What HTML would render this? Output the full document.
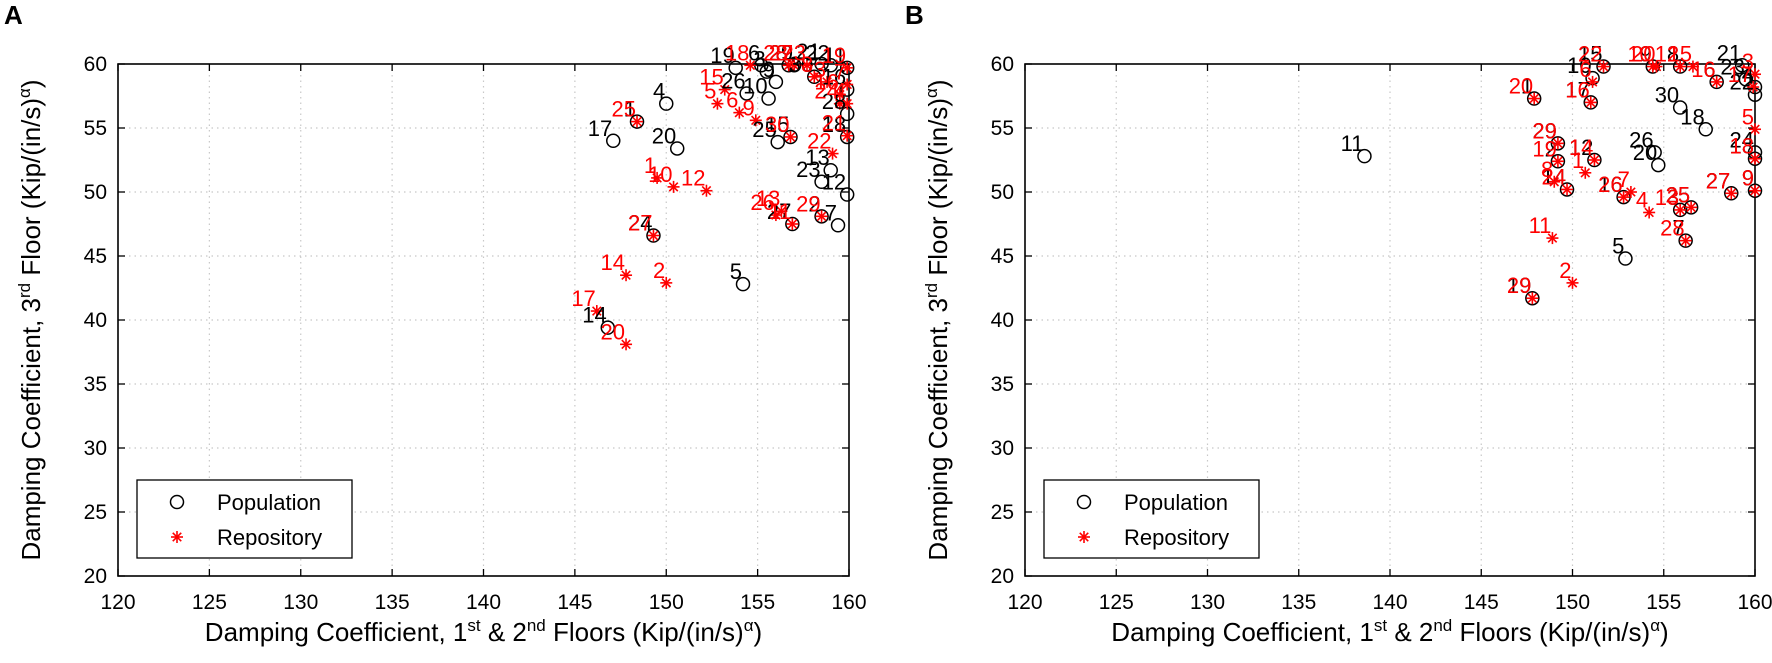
<!DOCTYPE html>
<html><head><meta charset="utf-8"><style>
html,body{margin:0;padding:0;background:#fff;}
svg{display:block;font-family:"Liberation Sans",Arial,sans-serif;}
</style></head><body>
<svg id="chart" width="1772" height="663" viewBox="0 0 1772 663" xmlns="http://www.w3.org/2000/svg">
<rect width="1772" height="663" fill="#fff"/>
</svg>
<script>
// ---- Panel A data ----
const popAx = [153.8,155.2,155.5,156.0,155.6,154.4,150.0,147.1,150.6,156.1,159.0,158.5,159.9,159.4,156.9,158.5,154.2,146.8,149.3,148.4,159.0,159.9,159.9,159.9,159.9,156.7,157.0,158.1,156.8,158.5];
const popAy = [59.7,59.9,59.4,58.6,57.3,57.7,56.9,54.0,53.4,53.9,51.7,50.8,49.8,47.4,47.5,48.1,42.8,39.4,46.6,55.5,59.9,59.7,58.0,56.1,54.3,59.9,59.9,59.0,54.3,60.0];
const popAlab = ['19','6','3','9','10','26','4','17','20','25','13','23','12','7','27','2','5','14','24','1','22','11','16','28','18','8','29','30','15','21'];
const repAx = [154.6,153.2,152.8,154.0,154.9,156.8,156.7,157.0,157.7,158.1,158.8,159.5,159.9,159.9,159.5,159.9,159.9,159.1,149.5,150.4,152.2,156.3,156.0,158.5,156.9,148.4,149.3,147.8,150.0,146.2,147.8];
const repAy = [59.9,58.0,56.9,56.2,55.6,54.3,59.9,59.9,59.9,59.0,58.6,57.6,59.7,58.4,56.9,56.9,54.4,53.0,51.1,50.4,50.1,48.5,48.2,48.1,47.5,55.5,46.6,43.5,42.9,40.7,38.1];
const repAlab = ['18','15','5','6','9','30','28','27','23','8','3','16','19','7','24','4','21','22','1','10','12','13','26','29','11','25','27','14','2','17','20'];
// ---- Panel B data ----
const popBx = [138.6,147.9,151.7,151.1,151.0,154.4,155.9,157.9,159.3,159.5,160,155.9,157.3,160,160,160,158.7,155.9,156.5,156.2,154.5,154.7,149.2,149.2,151.2,149.7,152.8,152.9,147.8,160];
const popBy = [52.8,57.3,59.8,58.9,57.0,59.8,59.8,58.6,59.9,58.8,57.6,56.6,54.9,53.1,52.6,50.1,49.9,48.6,48.8,46.2,53.1,52.1,53.8,52.4,52.5,50.2,49.6,44.8,41.7,58.2];
const popBlab = ['11','1','15','10','17','9','8','6','21','23','22','30','18','24','13','9','27','3','25','7','26','20','29','2','12','14','16','5','19','4'];
const repBx = [147.9,151.7,151.1,151.0,154.4,155.9,156.6,157.9,159.9,160,160,160,158.7,155.9,156.5,156.2,149.2,149.2,151.2,150.7,149.0,149.7,152.8,153.2,154.2,148.9,150.0,147.8,154.6,160];
const repBy = [57.3,59.8,58.6,57.0,59.8,59.8,59.8,58.6,58.2,54.9,52.6,50.1,49.9,48.6,48.8,46.2,53.8,52.4,52.5,51.5,50.8,50.2,49.6,50.0,48.4,46.4,42.9,41.7,59.8,59.2];
const repBlab = ['20','22','6','16','10','12','15','16','17','5','18','9','27','13','25','28','29','19','14','1','8','24','26','7','4','11','2','29','20','3'];
const xTicks = [120,125,130,135,140,145,150,155,160];
const yTicks = [20,25,30,35,40,45,50,55,60];

const NS = 'http://www.w3.org/2000/svg';
const svg = document.getElementById('chart');
function mk(tag, attrs, parent){ const e=document.createElementNS(NS,tag); for(const k in attrs) e.setAttribute(k,attrs[k]); (parent||svg).appendChild(e); return e; }

function panel(cfg){
  const L=cfg.left, R=cfg.right, T=64, B=576;
  const sx = v => L + (v-120)/(160-120)*(R-L);
  const sy = v => B - (v-20)/(60-20)*(B-T);
  const g = mk('g',{});
  
  
  xTicks.forEach(t=>{ if(t>120&&t<160){ const l=mk('line',{x1:sx(t),x2:sx(t),y1:T,y2:B,stroke:'#c8c8c8','stroke-width':1.2,'stroke-dasharray':'1.5 4'},g);
      }});
  yTicks.forEach(t=>{ if(t>20&&t<60){ const l=mk('line',{x1:L,x2:R,y1:sy(t),y2:sy(t),stroke:'#c8c8c8','stroke-width':1.2,'stroke-dasharray':'1.5 4'},g);
      }});
  xTicks.forEach(t=>{
    mk('line',{x1:sx(t),x2:sx(t),y1:B,y2:B-7,stroke:'#000','stroke-width':1.3},g);
    mk('line',{x1:sx(t),x2:sx(t),y1:T,y2:T+7,stroke:'#000','stroke-width':1.3},g);
    const tx=mk('text',{x:sx(t),y:B+33,'font-size':21,'text-anchor':'middle',fill:'#000'},g);
    tx.textContent=t;
     
  });
  yTicks.forEach(t=>{
    mk('line',{x1:L,x2:L+7,y1:sy(t),y2:sy(t),stroke:'#000','stroke-width':1.3},g);
    mk('line',{x1:R,x2:R-7,y1:sy(t),y2:sy(t),stroke:'#000','stroke-width':1.3},g);
    const tx=mk('text',{x:L-11,y:sy(t)+7,'font-size':21,'text-anchor':'end',fill:'#000'},g);
    tx.textContent=t;
     
  });
  const box=mk('rect',{x:L,y:T,width:R-L,height:B-T,fill:'none',stroke:'#000','stroke-width':1.6},g);
   
  cfg.px.forEach((v,i)=>{
    const c=mk('circle',{cx:sx(v),cy:sy(cfg.py[i]),r:6.5,fill:'none',stroke:'#000','stroke-width':1.5},g);
     
  });
  cfg.rx.forEach((v,i)=>{
    const cx=sx(v), cy=sy(cfg.ry[i]);
    const s=mk('g',{stroke:'#ff0000','stroke-width':1.6},g);
     
    for(let a=0;a<4;a++){ const ang=a*Math.PI/4, r=6;
      mk('line',{x1:cx-r*Math.cos(ang),y1:cy-r*Math.sin(ang),x2:cx+r*Math.cos(ang),y2:cy+r*Math.sin(ang)},s); }
  });
  cfg.px.forEach((v,i)=>{
    const t=mk('text',{x:sx(v)-1,y:sy(cfg.py[i])-5,'font-size':22,'text-anchor':'end',fill:'#000'},g);
    t.textContent=cfg.pl[i];
     
  });
  cfg.rx.forEach((v,i)=>{
    const t=mk('text',{x:sx(v)-1,y:sy(cfg.ry[i])-5,'font-size':22,'text-anchor':'end',fill:'#ff0000'},g);
    t.textContent=cfg.rl[i];
     
  });
  const lg=mk('g',{},g);
   
  const lx=L+19;
  mk('rect',{x:lx,y:480,width:215,height:78,fill:'#fff',stroke:'#000','stroke-width':1.3},lg);
  mk('circle',{cx:lx+40,cy:502,r:6.5,fill:'none',stroke:'#000','stroke-width':1.5},lg);
  const ls=mk('g',{stroke:'#ff0000','stroke-width':1.6},lg);
  for(let a=0;a<4;a++){ const ang=a*Math.PI/4,r=6; mk('line',{x1:lx+40-r*Math.cos(ang),y1:537-r*Math.sin(ang),x2:lx+40+r*Math.cos(ang),y2:537+r*Math.sin(ang)},ls); }
  const t1=mk('text',{x:lx+80,y:510,'font-size':22,fill:'#000'},lg); t1.textContent='Population';
   
  const t2=mk('text',{x:lx+80,y:545,'font-size':22,fill:'#000'},lg); t2.textContent='Repository';
   
  const xt=mk('text',{x:(L+R)/2,y:641,'font-size':26,'text-anchor':'middle',fill:'#000'},g);
  xt.innerHTML='Damping Coefficient, 1<tspan dy="-10" font-size="17">st</tspan><tspan dy="10"> &amp; 2</tspan><tspan dy="-10" font-size="17">nd</tspan><tspan dy="10"> Floors (Kip/(in/s)</tspan><tspan dy="-10" font-size="17">α</tspan><tspan dy="10">)</tspan>';
   
  const ty=(T+B)/2, tX=L-78;
  const yt=mk('text',{x:tX,y:ty,'font-size':26,'text-anchor':'middle',fill:'#000',transform:'rotate(-90 '+tX+' '+ty+')'},g);
  yt.innerHTML='Damping Coefficient, 3<tspan dy="-10" font-size="17">rd</tspan><tspan dy="10"> Floor (Kip/(in/s)</tspan><tspan dy="-10" font-size="17">α</tspan><tspan dy="10">)</tspan>';
   
  const pl=mk('text',{x:cfg.letterX,y:24,'font-size':26,'font-weight':'bold',fill:'#000'},g);
  pl.textContent=cfg.letter;
   
}
panel({name:'panel-a',left:118,right:849,px:popAx,py:popAy,pl:popAlab,rx:repAx,ry:repAy,rl:repAlab,letter:'A',letterX:4});
panel({name:'panel-b',left:1025,right:1755,px:popBx,py:popBy,pl:popBlab,rx:repBx,ry:repBy,rl:repBlab,letter:'B',letterX:905});
</script>
</body></html>
